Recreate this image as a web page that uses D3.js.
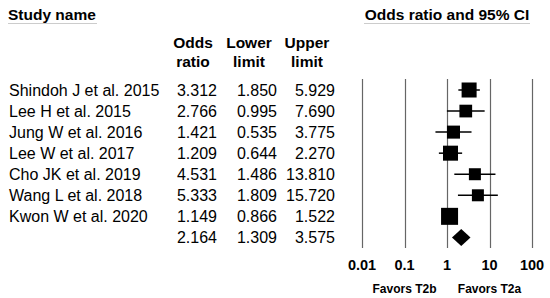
<!DOCTYPE html>
<html><head><meta charset="utf-8">
<script src="https://cdn.jsdelivr.net/npm/d3@7"></script>
<style>body{margin:0;background:#fff}svg{display:block;font-family:Arial,"Liberation Sans",sans-serif}</style>
</head><body>
<svg id="c" width="550" height="298"></svg>
<script>
const studies = ["Shindoh J et al. 2015","Lee H et al. 2015","Jung W et al. 2016","Lee W et al. 2017","Cho JK et al. 2019","Wang L et al. 2018","Kwon W et al. 2020",""];
const oddsRatio = [3.312,2.766,1.421,1.209,4.531,5.333,1.149,2.164];
const lowerLimit = [1.850,0.995,0.535,0.644,1.486,1.809,0.866,1.309];
const upperLimit = [5.929,7.690,3.775,2.270,13.810,15.720,1.522,3.575];
const oddsText = ["3.312","2.766","1.421","1.209","4.531","5.333","1.149","2.164"];
const lowerText = ["1.850","0.995","0.535","0.644","1.486","1.809","0.866","1.309"];
const upperText = ["5.929","7.690","3.775","2.270","13.810","15.720","1.522","3.575"];
const weights = [16.6,11.9,12.5,16.6,10.6,10.6,21.3];
const tickValues = [0.01,0.1,1,10,100];
const tickLabels = ["0.01","0.1","1","10","100"];

const svg = d3.select("#c");
const x = d3.scaleLog().domain([0.01,100]).range([362,532]);
const y = d3.scalePoint().domain(d3.range(8)).range([90,237.4]);
const size = d3.scaleSqrt().domain([0,d3.max(weights)]).range([0,17]);

// headers
svg.append("text").attr("x",8).attr("y",20).attr("font-size",15.5).attr("font-weight","bold").text("Study name");
svg.append("line").attr("x1",8).attr("x2",97).attr("y1",23.5).attr("y2",23.5).attr("stroke","#ccc").attr("stroke-width",1);
svg.append("text").attr("x",447).attr("y",20).attr("text-anchor","middle").attr("font-size",15.5).attr("font-weight","bold").text("Odds ratio and 95% CI");
svg.append("line").attr("x1",364).attr("x2",530).attr("y1",23.5).attr("y2",23.5).attr("stroke","#ccc").attr("stroke-width",1);

const heads = [["Odds","ratio",193],["Lower","limit",249],["Upper","limit",307]];
heads.forEach(h=>{
  svg.append("text").attr("x",h[2]).attr("y",48).attr("text-anchor","middle").attr("font-size",15.5).attr("font-weight","bold").text(h[0]);
  svg.append("text").attr("x",h[2]).attr("y",66.5).attr("text-anchor","middle").attr("font-size",15.5).attr("font-weight","bold").text(h[1]);
});

// table rows
const rows = svg.append("g").attr("font-size",16);
rows.selectAll(".nm").data(studies).join("text").attr("x",9).attr("y",(d,i)=>y(i)+6).text(d=>d);
rows.selectAll(".or").data(oddsText).join("text").attr("x",217).attr("y",(d,i)=>y(i)+6).attr("text-anchor","end").text(d=>d);
rows.selectAll(".lo").data(lowerText).join("text").attr("x",277).attr("y",(d,i)=>y(i)+6).attr("text-anchor","end").text(d=>d);
rows.selectAll(".up").data(upperText).join("text").attr("x",335).attr("y",(d,i)=>y(i)+6).attr("text-anchor","end").text(d=>d);

// vertical grid lines
svg.selectAll(".vl").data(tickValues).join("line")
  .attr("x1",d=>Math.round(x(d))+0.5).attr("x2",d=>Math.round(x(d))+0.5)
  .attr("y1",79).attr("y2",248).attr("stroke","#666").attr("stroke-width",1.2);

// axis labels
svg.selectAll(".tl").data(tickValues).join("text")
  .attr("x",d=>x(d)).attr("y",270).attr("text-anchor","middle")
  .attr("font-size",14.5).attr("font-weight","bold").text((d,i)=>tickLabels[i]);
svg.append("text").attr("x",x(0.1)).attr("y",293).attr("text-anchor","middle").attr("font-size",12).attr("font-weight","bold").text("Favors T2b");
svg.append("text").attr("x",x(10)).attr("y",293).attr("text-anchor","middle").attr("font-size",12).attr("font-weight","bold").text("Favors T2a");

// CI lines and squares
const idx = d3.range(7);
svg.selectAll(".ci").data(idx).join("line")
  .attr("x1",i=>x(lowerLimit[i])).attr("x2",i=>x(upperLimit[i]))
  .attr("y1",i=>y(i)).attr("y2",i=>y(i)).attr("stroke","#000").attr("stroke-width",1.5);
svg.selectAll(".sq").data(idx).join("rect")
  .attr("x",i=>x(oddsRatio[i])-size(weights[i])/2).attr("y",i=>y(i)-size(weights[i])/2)
  .attr("width",i=>size(weights[i])).attr("height",i=>size(weights[i])).attr("fill","#000");

// summary diamond
const yc = y(7), xl = x(lowerLimit[7]), xr = x(upperLimit[7]), xm = x(oddsRatio[7]);
svg.append("path").attr("d",`M${xl},${yc}L${xm},${yc-8.5}L${xr},${yc}L${xm},${yc+8.5}Z`).attr("fill","#000");
</script>
</body></html>
